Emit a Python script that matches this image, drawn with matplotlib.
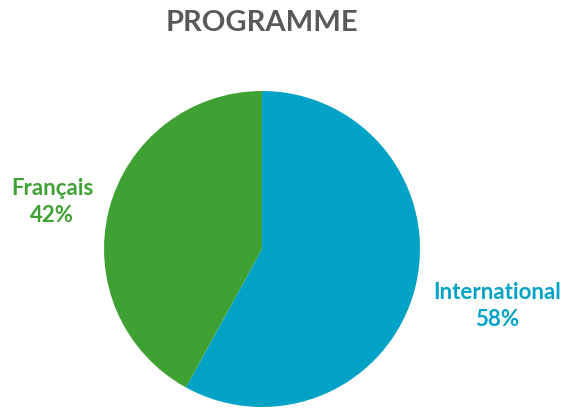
import matplotlib.pyplot as plt

labels = ['International', 'Français']
values = [58, 42]
colors = ['#00A3C6', '#3FA134']

plt.rcParams['font.family'] = ['Lato', 'DejaVu Sans']

fig = plt.figure(figsize=(5.64, 4.10), dpi=100)
ax = fig.add_axes([0.1844, 0.0049, 0.5603, 0.7707])

wedges, _ = ax.pie(values, colors=colors, startangle=90, counterclock=False,
                   radius=1.0, wedgeprops=dict(linewidth=0))
ax.set_xlim(-1, 1)
ax.set_ylim(-1, 1)
ax.set_aspect('equal')

# label positions (data coords, radius = 1)
pos = [(1.490, -0.354), (-1.329, 0.304)]
for lab, v, c, (x, y) in zip(labels, values, colors, pos):
    ax.text(x, y, '%s\n%d%%' % (lab, v), color=c, ha='center', va='center',
            fontsize=16, fontweight='bold', linespacing=1.32, clip_on=False)

fig.text(0.4645, 0.943, 'PROGRAMME', ha='center', va='center',
         fontsize=21, fontweight='bold', color='#595959')

fig.savefig('out.png', dpi=100)
